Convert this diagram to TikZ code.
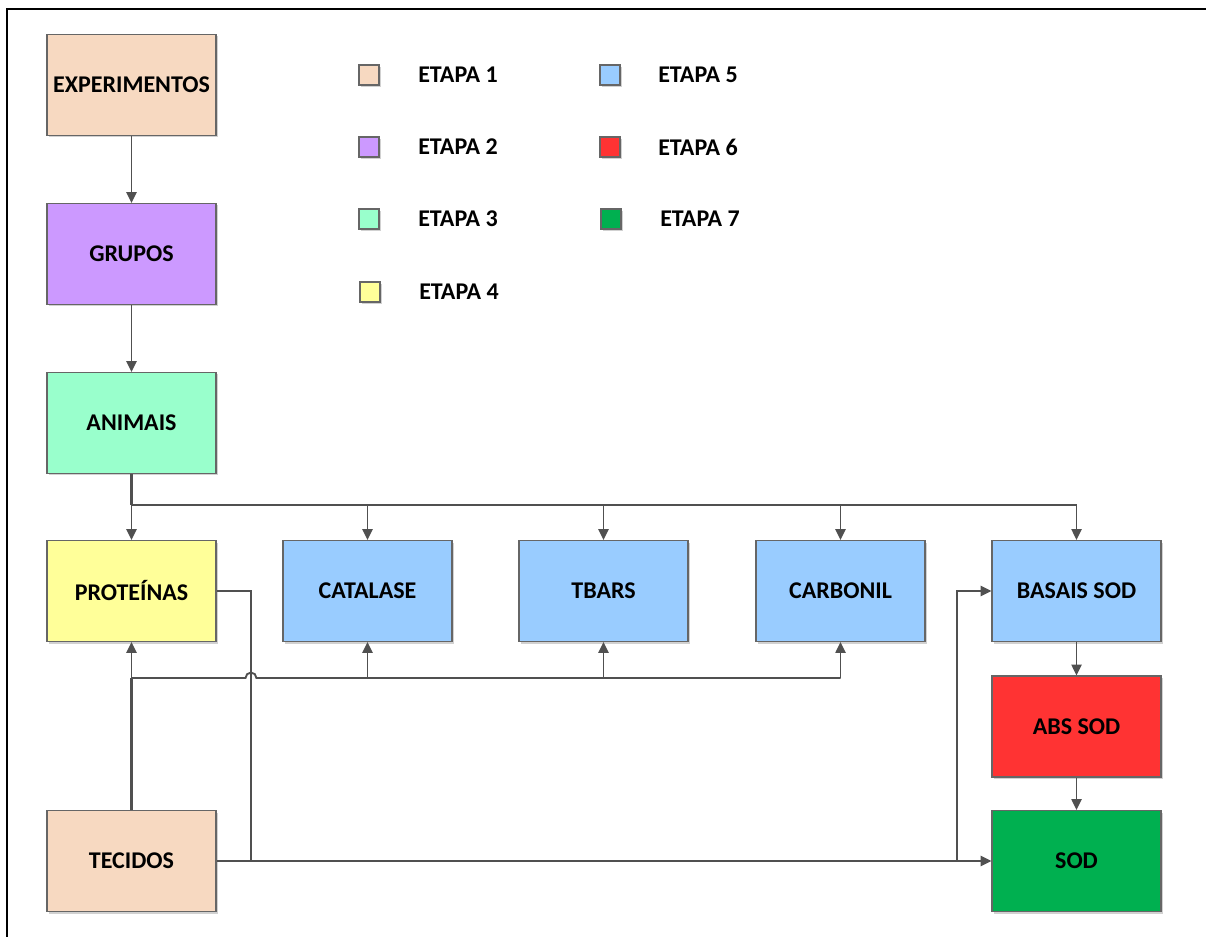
\documentclass[tikz,border=0pt]{standalone}
\usepackage{fontspec}
\setmainfont{Carlito}
\usetikzlibrary{arrows.meta,shadows}

\definecolor{stepone}{HTML}{F7D9C1}
\definecolor{steptwo}{HTML}{CC99FF}
\definecolor{stepthree}{HTML}{99FFCC}
\definecolor{stepfour}{HTML}{FFFF99}
\definecolor{stepfive}{HTML}{99CCFF}
\definecolor{stepsix}{HTML}{FF3333}
\definecolor{stepseven}{HTML}{00B050}
\definecolor{wire}{HTML}{505050}
\definecolor{edge}{HTML}{666666}

\tikzset{
  softshadow/.style={drop shadow={shadow xshift=1.5pt, shadow yshift=-1.5pt, opacity=0.18, fill=black}},
  box/.style={draw=edge, line width=0.9pt, minimum width=126.75pt, minimum height=75.75pt,
    inner sep=0pt, font=\bfseries\fontsize{18}{21}\selectfont, softshadow},
  swatch/.style={draw=edge, line width=0.9pt, minimum size=15pt, inner sep=0pt, softshadow},
  swatchlabel/.style={anchor=west, inner sep=0pt, font=\bfseries\fontsize{18}{21}\selectfont},
  wireline/.style={draw=wire, line width=1.4pt},
  trunk/.style={draw=wire, line width=2.4pt},
  conn/.style={wireline, -{Triangle[length=8pt,width=7.5pt]}},
}

\begin{document}
\begin{tikzpicture}[x=0.75pt,y=-0.75pt]
\useasboundingbox (0,0) rectangle (1206,937);

% frame
\draw[line width=1.8pt] (7,937) -- (7,9) -- (1206,9);

% left column
\node[box, fill=stepone]   (exp)  at (131.5,85)  {EXPERIMENTOS};
\node[box, fill=steptwo]   (grp)  at (131.5,254) {GRUPOS};
\node[box, fill=stepthree] (ani)  at (131.5,423) {ANIMAIS};
\node[box, fill=stepfour]  (prot) at (131.5,591) {PROTEÍNAS};
\node[box, fill=stepone]   (tec)  at (131.5,861) {TECIDOS};

% assay row
\node[box, fill=stepfive]  (cat)  at (367.5,591)  {CATALASE};
\node[box, fill=stepfive]  (tba)  at (603.5,591)  {TBARS};
\node[box, fill=stepfive]  (carb) at (840.5,591)  {CARBONIL};
\node[box, fill=stepfive]  (bas)  at (1076.5,591) {BASAIS SOD};
\node[box, fill=stepsix]   (abs)  at (1076.5,726.5) {ABS SOD};
\node[box, fill=stepseven] (sod)  at (1076.5,861) {SOD};

% legend
\node[swatch, fill=stepone]   (l1) at (369,75)  {};
\node[swatch, fill=steptwo]   (l2) at (369,147) {};
\node[swatch, fill=stepthree] (l3) at (369,219) {};
\node[swatch, fill=stepfour]  (l4) at (370,292) {};
\node[swatch, fill=stepfive]  (l5) at (610,75)  {};
\node[swatch, fill=stepsix]   (l6) at (610,147) {};
\node[swatch, fill=stepseven] (l7) at (611,219) {};
\node[swatchlabel] (t1) at (418,75)  {ETAPA 1};
\node[swatchlabel] (t2) at (418,147) {ETAPA 2};
\node[swatchlabel] (t3) at (418,219) {ETAPA 3};
\node[swatchlabel] (t4) at (419,292) {ETAPA 4};
\node[swatchlabel] (t5) at (658,75)  {ETAPA 5};
\node[swatchlabel] (t6) at (658,147) {ETAPA 6};
\node[swatchlabel] (t7) at (660,219) {ETAPA 7};

% main chain
\draw[conn] (exp) -- (grp);
\draw[conn] (grp) -- (ani);

% distribution from ANIMAIS
\coordinate (split) at (131.5,505);
\draw[trunk] (ani.south) -- (split);
\draw[conn] (split) -- (prot.north);
\draw[conn] (split) -| (cat.north);
\draw[conn] (split) -| (tba.north);
\draw[conn] (split) -| (carb.north);
\draw[conn] (split) -| (bas.north);

% samples from TECIDOS
\coordinate (feed) at (131.5,678);
\draw[trunk] (tec.north) -- (feed);
\draw[conn] (feed) -- (prot.south);
\draw[wireline] (feed) -- (245.5,678) arc[start angle=180, end angle=0, radius=4.1pt]
  -- (carb.south |- feed);
\draw[conn] (cat.south |- feed) -- (cat.south);
\draw[conn] (tba.south |- feed) -- (tba.south);
\draw[conn] (carb.south |- feed) -- (carb.south);

% route to SOD
\coordinate (drop) at (251,861);
\coordinate (rise) at (957,861);
\draw[wireline] (prot.east) -| (drop);
\draw[conn] (tec.east) -- (sod.west);
\draw[conn] (rise) |- (bas.west);
\draw[conn] (bas) -- (abs);
\draw[conn] (abs) -- (sod);
\end{tikzpicture}
\end{document}
